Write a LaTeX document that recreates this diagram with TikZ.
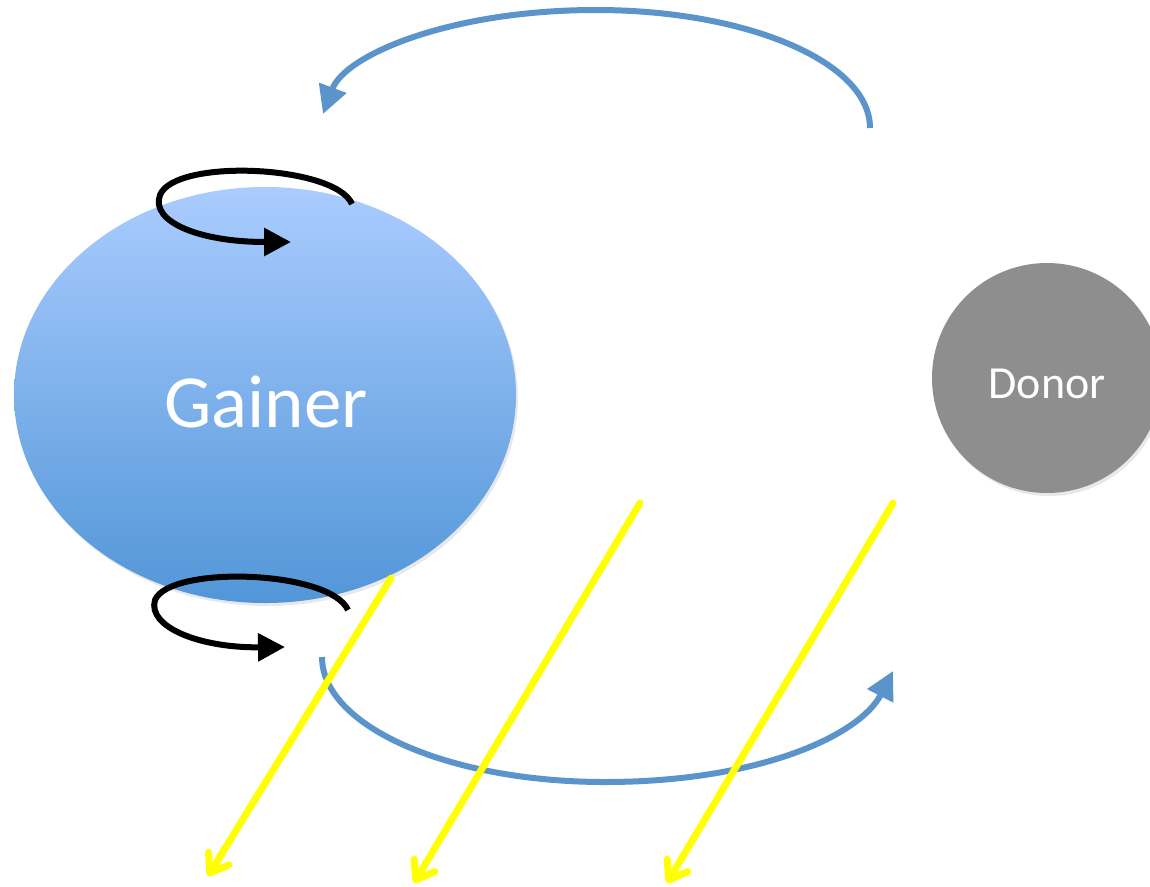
\documentclass[tikz,border=0pt]{standalone}
\usepackage{fontspec}
\setmainfont{Carlito}
\usetikzlibrary{arrows.meta,shapes.geometric,shadows}
\definecolor{arcblue}{RGB}{91,148,202}
\definecolor{gaintop}{RGB}{170,204,255}
\definecolor{gainbot}{RGB}{82,150,216}
\definecolor{donorgray}{RGB}{142,142,142}
\definecolor{lightyellow}{RGB}{255,255,0}
\begin{document}
\begin{tikzpicture}[x=1pt,y=-1pt,
  bluearc/.style={draw=arcblue,line width=6pt,-{Triangle[length=28pt,width=28pt]}},
  spin/.style={draw=black,line width=6pt,-{Triangle[length=27pt,width=27pt]}},
  light/.style={draw=lightyellow,line width=7pt,line cap=round,-{Straight Barb[length=17pt,width=24pt,round]}},
  star/.style={inner sep=0pt,drop shadow={opacity=0.18,shadow xshift=2pt,shadow yshift=-3pt}}]
\clip (0,0) rectangle (1150,886);
\useasboundingbox (0,0) rectangle (1150,886);
% stars
\node[star,ellipse,minimum width=502pt,minimum height=416pt,top color=gaintop,bottom color=gainbot] (gainer) at (265,395) {};
\node[text=white,font=\fontsize{75}{80}\selectfont] (gainerlabel) at (266,402) {Gainer};
\node[star,circle,minimum size=230pt,fill=donorgray] (donor) at (1047,378) {};
\node[text=white,font=\fontsize{46}{50}\selectfont] (donorlabel) at (1047,384) {Donor};
% orbit arcs
\coordinate (t1) at (870,128);
\coordinate (t2) at (596,10);
\coordinate (t3) at (323,114);
\coordinate (b1) at (322,657);
\coordinate (b2) at (605,782);
\coordinate (b3) at (893,671);
\draw[bluearc] (t1) .. controls (870,62) and (747,10) .. (t2) .. controls (450,10) and (345,55) .. (t3);
\draw[bluearc] (b1) .. controls (322,726) and (448,782) .. (b2) .. controls (760,782) and (860,735) .. (b3);
% spins
\coordinate (s1) at (352,204);
\coordinate (s2) at (160,195);
\coordinate (s3) at (291,242);
\draw[spin] (s1) .. controls (335,165) and (175,158) .. (s2) .. controls (150,222) and (200,242) .. (s3);
\coordinate (u1) at (348,610);
\coordinate (u2) at (155,600);
\coordinate (u3) at (285,647);
\draw[spin] (u1) .. controls (330,570) and (170,565) .. (u2) .. controls (147,627) and (200,648) .. (u3);
% light
\coordinate (y1a) at (391,578);
\coordinate (y1b) at (208,876);
\coordinate (y2a) at (640,503);
\coordinate (y2b) at (414,883);
\coordinate (y3a) at (893,503);
\coordinate (y3b) at (667,883);
\draw[light] (y1a) -- (y1b);
\draw[light] (y2a) -- (y2b);
\draw[light] (y3a) -- (y3b);
\end{tikzpicture}
\end{document}
